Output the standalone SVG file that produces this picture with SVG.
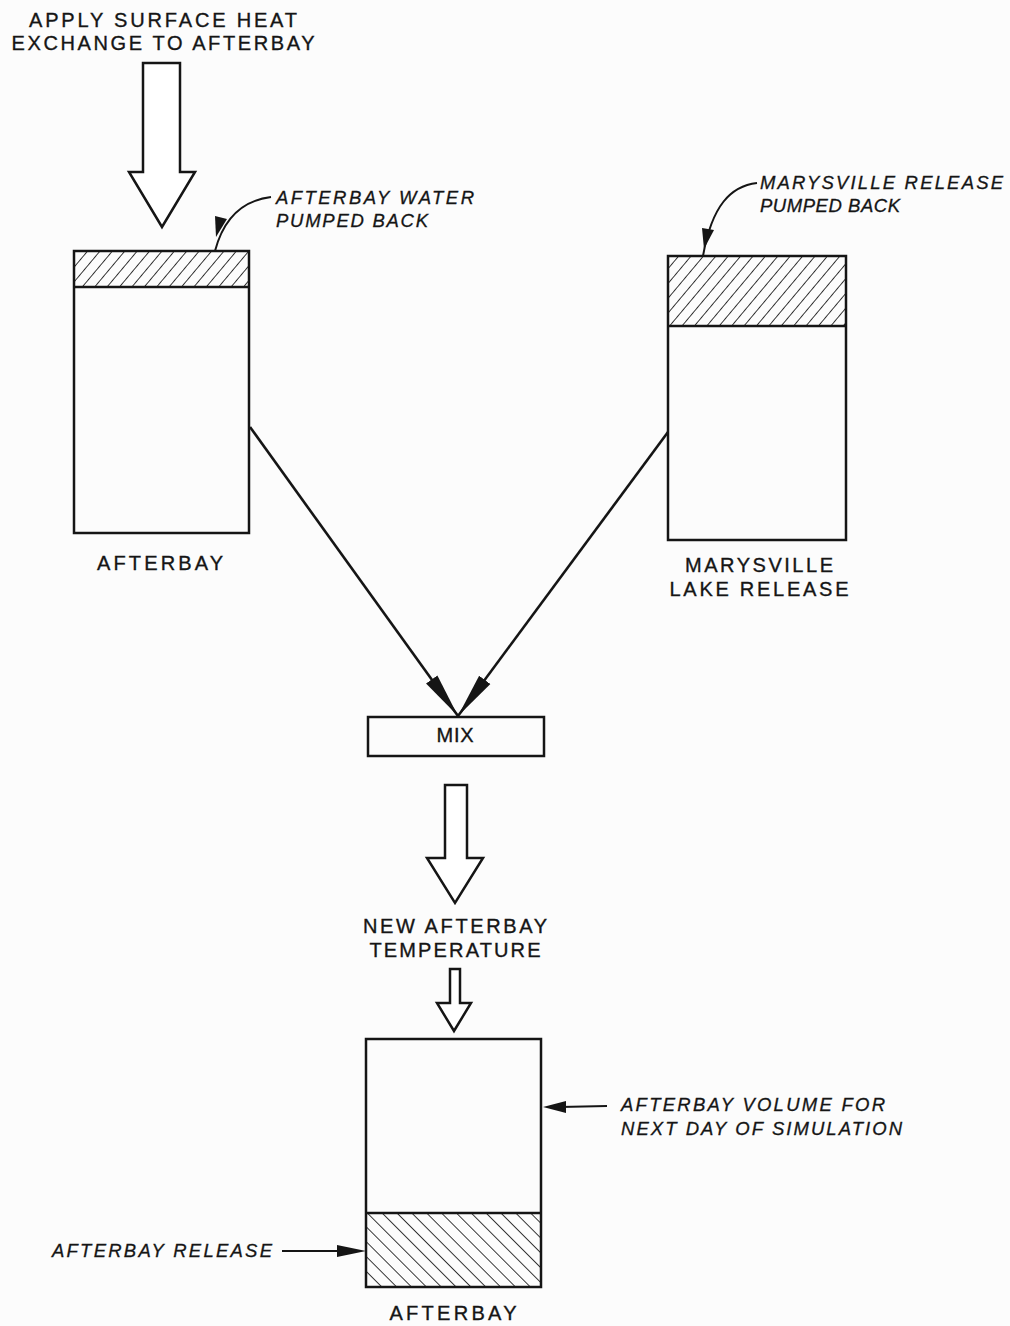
<svg xmlns="http://www.w3.org/2000/svg" width="1010" height="1326" viewBox="0 0 1010 1326">
  <style>
    .lbl { font-family: "Liberation Sans", Arial, sans-serif; font-size: 20px; fill: #151515; stroke: #151515; stroke-width: 0.35; }
    .itl { font-family: "Liberation Sans", Arial, sans-serif; font-size: 18.5px; font-style: italic; fill: #151515; stroke: #151515; stroke-width: 0.3; }
    .box { fill: none; stroke: #151515; stroke-width: 2.5; }
    .hollow { fill: #ffffff; stroke: #151515; stroke-width: 2.5; stroke-linejoin: miter; }
    .conn { fill: none; stroke: #151515; stroke-width: 2.6; }
    .lead { fill: none; stroke: #151515; stroke-width: 2; }
    .head { fill: #151515; stroke: none; }
  </style>
  <defs>
    <pattern id="hatchFwd" patternUnits="userSpaceOnUse" width="9.5" height="9.5" patternTransform="rotate(40)">
      <line x1="0" y1="0" x2="0" y2="9.5" stroke="#151515" stroke-width="1.7"/>
    </pattern>
    <pattern id="hatchBack" patternUnits="userSpaceOnUse" width="10.5" height="10.5" patternTransform="rotate(-45)">
      <line x1="0" y1="0" x2="0" y2="10.5" stroke="#151515" stroke-width="1.7"/>
    </pattern>
    <marker id="bigHead" markerUnits="userSpaceOnUse" markerWidth="46" markerHeight="18" refX="45" refY="8" orient="auto">
      <path d="M0,1 L45,8 L0,15 z" fill="#151515"/>
    </marker>
  </defs>
  <rect x="0" y="0" width="1010" height="1326" fill="#fcfcfc"/>

  <g id="heat-exchange">
    <text class="lbl" x="163" y="27" text-anchor="middle" textLength="268" lengthAdjust="spacing">APPLY SURFACE HEAT</text>
    <text class="lbl" x="163" y="50" text-anchor="middle" textLength="303" lengthAdjust="spacing">EXCHANGE TO AFTERBAY</text>
    <polygon class="hollow" points="143,63 180,63 180,172 195,172 162,227 129,172 143,172"/>
  </g>

  <g id="afterbay-tank">
    <rect x="74" y="251" width="175" height="36" fill="url(#hatchFwd)"/>
    <rect class="box" x="74" y="251" width="175" height="282"/>
    <line class="box" x1="74" y1="287" x2="249" y2="287"/>
    <text class="lbl" x="160" y="570" text-anchor="middle" textLength="126" lengthAdjust="spacing">AFTERBAY</text>
  </g>

  <g id="afterbay-pumped-label">
    <text class="itl" x="276" y="204" textLength="198" lengthAdjust="spacing">AFTERBAY WATER</text>
    <text class="itl" x="276" y="227" textLength="152" lengthAdjust="spacing">PUMPED BACK</text>
    <path class="lead" d="M271,197 C247,200 225,213 215,251"/>
    <polygon class="head" points="216,237 227,219 215,216"/>
  </g>

  <g id="marysville-tank">
    <rect x="668" y="256" width="178" height="70" fill="url(#hatchFwd)"/>
    <rect class="box" x="668" y="256" width="178" height="284"/>
    <line class="box" x1="668" y1="326" x2="846" y2="326"/>
    <text class="lbl" x="759" y="572" text-anchor="middle" textLength="148" lengthAdjust="spacing">MARYSVILLE</text>
    <text class="lbl" x="759" y="596" text-anchor="middle" textLength="179" lengthAdjust="spacing">LAKE RELEASE</text>
  </g>

  <g id="marysville-pumped-label">
    <text class="itl" x="760" y="189" textLength="243" lengthAdjust="spacing">MARYSVILLE RELEASE</text>
    <text class="itl" x="760" y="212" textLength="140" lengthAdjust="spacing">PUMPED BACK</text>
    <path class="lead" d="M757,183 C731,186 712,205 703,256"/>
    <polygon class="head" points="704,249 714,230 702,228"/>
  </g>

  <g id="mix">
    <rect class="box" x="368" y="717" width="176" height="39"/>
    <text class="lbl" x="455" y="742" text-anchor="middle" textLength="37" lengthAdjust="spacing">MIX</text>
  </g>

  <g id="new-temperature">
    <polygon class="hollow" points="445,785 467,785 467,858 483,858 455,903 427,858 445,858"/>
    <text class="lbl" x="455" y="933" text-anchor="middle" textLength="184" lengthAdjust="spacing">NEW AFTERBAY</text>
    <text class="lbl" x="455" y="957" text-anchor="middle" textLength="171" lengthAdjust="spacing">TEMPERATURE</text>
    <polygon class="hollow" points="450,969 460,969 460,1003 471,1003 454,1031 437,1003 450,1003"/>
  </g>

  <g id="afterbay-next">
    <rect x="366" y="1213" width="175" height="74" fill="url(#hatchBack)"/>
    <rect class="box" x="366" y="1039" width="175" height="248"/>
    <line class="box" x1="366" y1="1213" x2="541" y2="1213"/>
    <text class="lbl" x="453" y="1320" text-anchor="middle" textLength="127" lengthAdjust="spacing">AFTERBAY</text>
  </g>

  <g id="volume-label">
    <text class="itl" x="621" y="1111" textLength="264" lengthAdjust="spacing">AFTERBAY VOLUME FOR</text>
    <text class="itl" x="621" y="1135" textLength="281" lengthAdjust="spacing">NEXT DAY OF SIMULATION</text>
    <line class="lead" x1="607" y1="1106" x2="560" y2="1107"/>
    <polygon class="head" points="543,1107 566,1101 566,1113"/>
  </g>

  <g id="release-label">
    <text class="itl" x="52" y="1257" textLength="220" lengthAdjust="spacing">AFTERBAY RELEASE</text>
    <line class="lead" x1="282" y1="1251" x2="340" y2="1251"/>
    <polygon class="head" points="366,1251 337,1245 337,1257"/>
  </g>

  <g id="connectors">
    <line class="conn" x1="250" y1="427" x2="458" y2="716" marker-end="url(#bigHead)"/>
    <line class="conn" x1="668" y1="432" x2="458" y2="716" marker-end="url(#bigHead)"/>
  </g>
</svg>
